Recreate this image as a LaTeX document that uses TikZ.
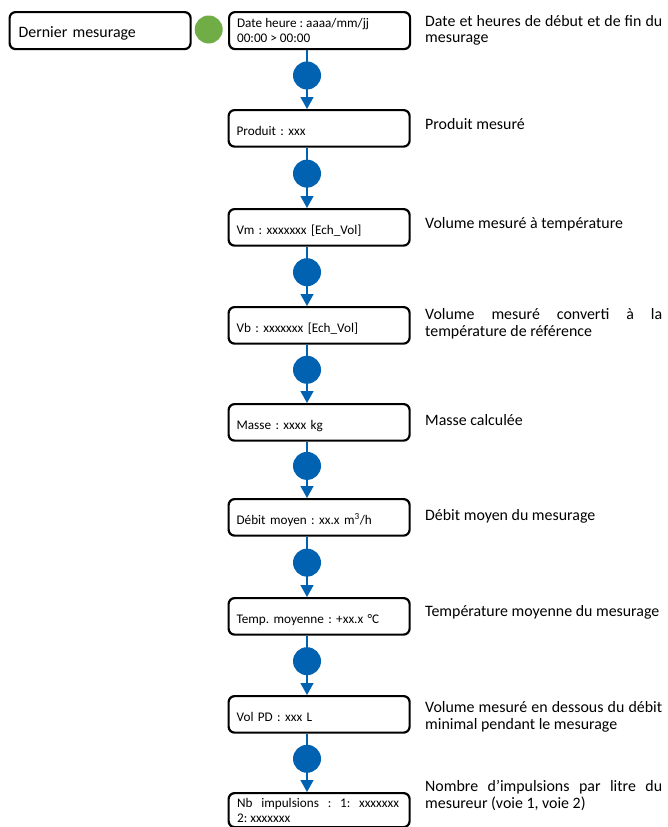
\documentclass[tikz,border=0pt]{standalone}
\usepackage{fontspec}
\setmainfont{Carlito}
\frenchspacing
\usetikzlibrary{arrows.meta,positioning,calc}
\definecolor{dotblue}{RGB}{0,98,176}
\definecolor{dotgreen}{RGB}{112,173,71}
\tikzset{
  box/.style={draw=black, line width=2.2pt, rounded corners=6pt, fill=white,
    minimum width=181pt, minimum height=36.5pt, inner xsep=8pt, inner ysep=0pt,
    text width=165pt, align=left, anchor=north west,
    font=\fontsize{13.2}{15}\selectfont},
  onebox/.style={box, text height=25pt, text depth=11.5pt},
  twobox/.style={box, align=justify},
  bigbox/.style={box, text height=25pt, text depth=12pt, font=\fontsize{15.9}{18}\selectfont},
  dot/.style={circle, fill=dotblue, minimum size=28pt, inner sep=0pt},
  gdot/.style={circle, fill=dotgreen, minimum size=28pt, inner sep=0pt},
  conn/.style={draw=dotblue, line width=1.3pt, -{Triangle[width=13pt,length=12pt]}},
  desc/.style={anchor=base west, inner sep=0pt, text width=237pt, align=justify,
    font=\fontsize{15.9}{17}\selectfont},
}
\begin{document}
\begin{tikzpicture}[x=1pt,y=-1pt]
\useasboundingbox (0,0) rectangle (667,827);
\coordinate (axis) at (307,0);

\node[bigbox, text width=163pt] (dernier) at (8.5,11) {Dernier mesurage};
\node[gdot] (start) at (208.7,29.5) {};

\node[twobox, minimum height=37pt] (date) at (228,11) {Date heure : aaaa/mm/jj\\00:00 > 00:00};
\node[onebox] (prod) at (227.5,109) {Produit : xxx};
\node[onebox] (vm) at (227.5,208) {Vm : xxxxxxx [Ech\_Vol]};
\node[onebox] (vb) at (227.5,306) {Vb : xxxxxxx [Ech\_Vol]};
\node[onebox] (masse) at (227.5,403) {Masse : xxxx kg};
\node[onebox] (debit) at (227.5,498) {Débit moyen : xx.x m\textsuperscript{3}/h};
\node[onebox] (temp) at (227.5,597) {Temp. moyenne : +xx.x °C};
\node[onebox] (volpd) at (227.5,695) {Vol PD : xxx L};
\node[twobox, text width=160pt, inner xsep=6pt, minimum height=34pt] (nb) at (227.5,792)
  {\hspace*{-2pt}Nb impulsions : 1: xxxxxxx\linebreak \hspace*{-2pt}2: xxxxxxx};

\foreach \a/\b/\n in {date/prod/c1, prod/vm/c2, vm/vb/c3, vb/masse/c4, masse/debit/c5,
  debit/temp/c6, temp/volpd/c7, volpd/nb/c8}{
  \draw[conn] (\a.south -| axis) -- node[dot, pos=0.43] (\n) {} (\b.north -| axis);
}

\node[desc] (t1) at (425,26) {Date et heures de début et de fin du\linebreak mesurage};
\node[desc] (t2) at (425,129) {Produit mesuré};
\node[desc] (t3) at (425,228) {Volume mesuré à température};
\node[desc] (t4) at (425,319) {Volume mesuré converti à la\linebreak température de référence};
\node[desc] (t5) at (425,425) {Masse calculée};
\node[desc] (t6) at (425,520) {Débit moyen du mesurage};
\node[desc] (t7) at (425,616) {Température moyenne du mesurage};
\node[desc] (t8) at (425,712) {Volume mesuré en dessous du débit\linebreak minimal pendant le mesurage};
\node[desc] (t9) at (425,791) {Nombre d’impulsions par litre du\linebreak mesureur (voie 1, voie 2)};
\end{tikzpicture}
\end{document}
